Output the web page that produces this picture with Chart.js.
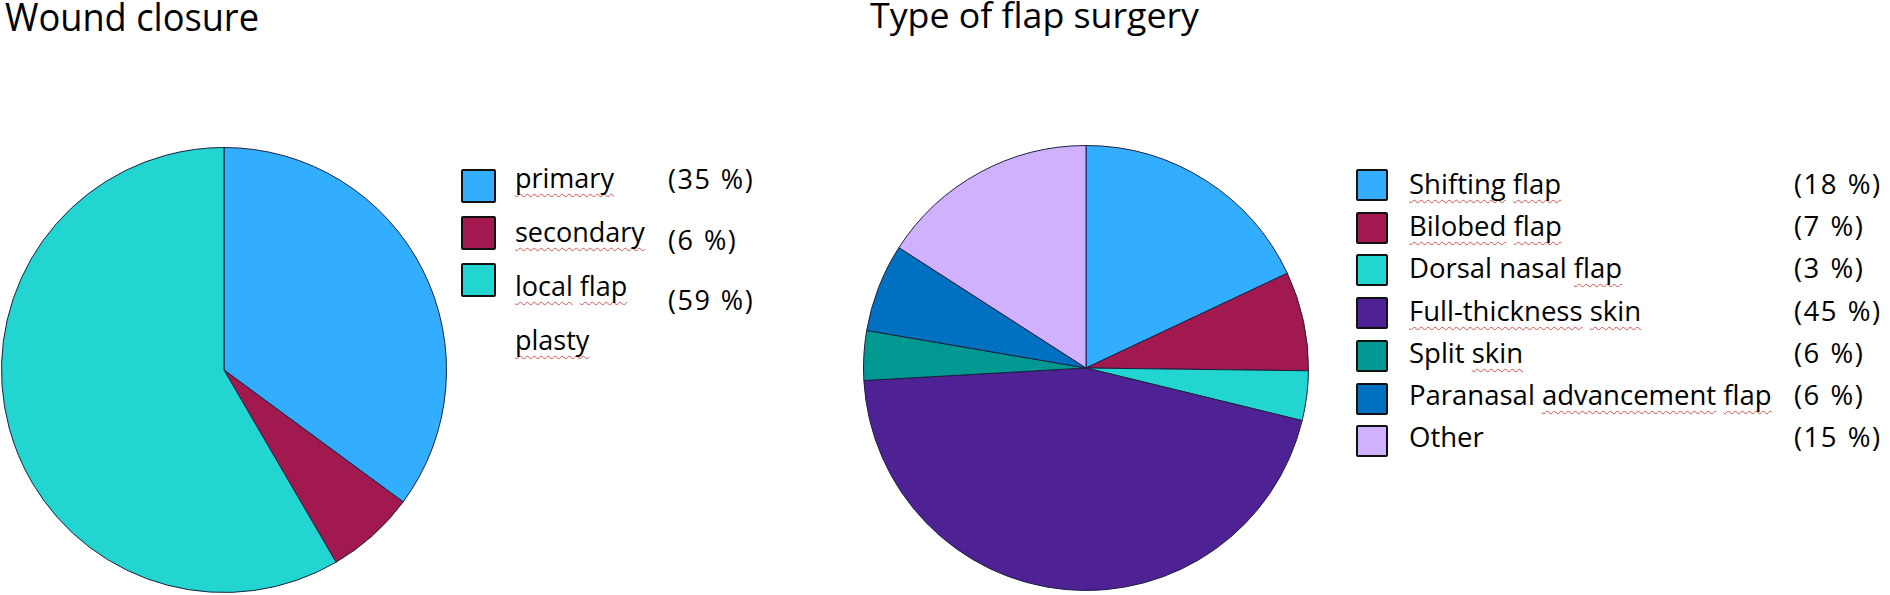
<!DOCTYPE html>
<html><head><meta charset="utf-8">
<script src="https://cdn.jsdelivr.net/npm/chart.js@4.4.1/dist/chart.umd.min.js"></script>
<style>
html,body{margin:0;padding:0;background:#fff}
body{width:1890px;height:595px;position:relative;overflow:hidden;font-family:"Open Sans","Noto Sans",sans-serif;color:#000}
.title{position:absolute;white-space:nowrap;transform-origin:0 0}
.pie{position:absolute}
.sw{position:absolute;border:2px solid #111;box-sizing:border-box;border-radius:2px}
.txt{position:absolute;white-space:nowrap}
.pct{letter-spacing:1.5px;word-spacing:1px}
.sp{text-decoration:underline wavy #e0504a;text-decoration-thickness:1px;text-underline-offset:5px;text-decoration-skip-ink:none}
</style>
</head><body>
<div id="t1" class="title"></div>
<div id="t2" class="title"></div>
<canvas id="c1" class="pie" width="446" height="446"></canvas>
<canvas id="c2" class="pie" width="446" height="446"></canvas>
<div id="leg"></div>
<script>
// ---- data ----
const woundTitle = 'Wound closure';
const woundLabels = ['primary', 'secondary', 'local flap plasty'];
const woundValues = [35.1, 6.5, 58.4];
const woundPercentText = ['(35 %)', '(6 %)', '(59 %)'];

const flapTitle = 'Type of flap surgery';
const flapLabels = ['Shifting flap', 'Bilobed flap', 'Dorsal nasal flap', 'Full-thickness skin', 'Split skin', 'Paranasal advancement flap', 'Other'];
const flapValues = [18.0, 7.2, 3.6, 45.3, 3.6, 6.4, 15.9];
const flapPercentText = ['(18 %)', '(7 %)', '(3 %)', '(45 %)', '(6 %)', '(6 %)', '(15 %)'];

// words carrying the spell-check underline in the original
const spellMarked = ['primary','secondary','local','flap','plasty','Shifting','Bilobed','Full-thickness','skin','advancement'];

// ---- styles ----
const woundColors = ['#33aefe', '#a1194f', '#22d5d0'];
const flapColors = ['#33aefe', '#a1194f', '#22d5d0', '#4e2194', '#009891', '#0070c0', '#cfb1fd'];
const edge = '#1e2140';

// ---- layout helpers ----
const OS_ASC = 1.069, OS_H = 1.362;
function topFor(baseline, fs, lh){ return baseline - ((lh - OS_H*fs)/2 + OS_ASC*fs); }
function place(el, x, baseline, fs, lh){
  el.style.left = x + 'px';
  el.style.fontSize = fs + 'px';
  el.style.lineHeight = lh + 'px';
  el.style.top = topFor(baseline, fs, lh) + 'px';
}
function fitWidth(el, w){
  const r = el.getBoundingClientRect().width;
  if (r > 0) el.style.transform = 'scaleX(' + (w / r) + ')';
}
function labelHTML(s){
  return s.split(' ').map(w => spellMarked.includes(w) ? '<span class="sp">'+w+'</span>' : w).join(' ');
}

const t1 = document.getElementById('t1'); t1.textContent = woundTitle;
const t2 = document.getElementById('t2'); t2.textContent = flapTitle;
place(t1, 5, 30.7, 38.5, 40); fitWidth(t1, 254);
place(t2, 870, 28.3, 35, 40); fitWidth(t2, 329);

// ---- pies ----
function pie(id, left, top, labels, values, colors){
  const cv = document.getElementById(id);
  cv.style.left = left + 'px'; cv.style.top = top + 'px';
  return new Chart(cv, {
    type: 'pie',
    data: { labels: labels, datasets: [{ data: values, backgroundColor: colors, borderColor: edge, borderWidth: 1 }] },
    options: {
      responsive: false, animation: false, events: [],
      layout: { padding: 0 },
      plugins: { legend: { display: false }, tooltip: { enabled: false }, title: { display: false } }
    }
  });
}
pie('c1', 1, 147, woundLabels, woundValues, woundColors);
pie('c2', 863, 145, flapLabels, flapValues, flapColors);

// ---- legends ----
const leg = document.getElementById('leg');
function add(cls, html){ const d = document.createElement('div'); d.className = cls; d.innerHTML = html; leg.appendChild(d); return d; }

woundLabels.forEach((lab, i) => {
  const s = add('sw', ''); s.style.left = '461px'; s.style.top = (169 + i*47) + 'px';
  s.style.width = '35px'; s.style.height = '34px'; s.style.background = woundColors[i];
  const t = add('txt', labelHTML(lab)); t.style.whiteSpace = 'normal'; t.style.width = '140px';
  place(t, 515, 188 + i*54, 27, 54);
  const p = add('txt pct', woundPercentText[i]);
  place(p, 668, [189, 250, 310][i], 27, 30);
});

flapLabels.forEach((lab, i) => {
  const s = add('sw', ''); s.style.left = '1356px'; s.style.top = (169 + i*42.7) + 'px';
  s.style.width = '32px'; s.style.height = '32px'; s.style.background = flapColors[i];
  const t = add('txt', labelHTML(lab));
  place(t, 1409, 194.3 + i*42.3, 27.5, 30);
  const p = add('txt pct', flapPercentText[i]);
  place(p, 1794, 194.3 + i*42.3, 27.5, 30);
});
</script>
</body></html>
